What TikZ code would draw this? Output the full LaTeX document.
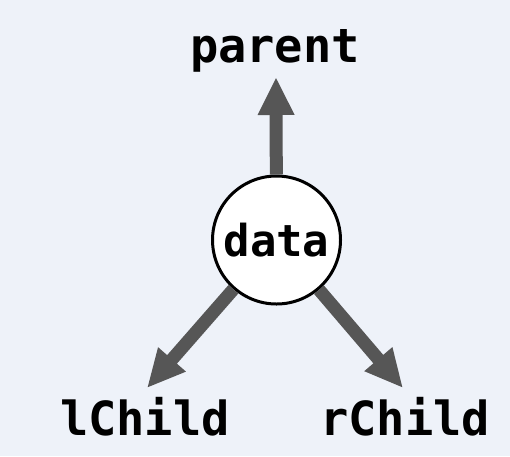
\documentclass[tikz,border=0pt]{standalone}
\usepackage{fontspec}
\setmonofont{DejaVu Sans Mono}
\usetikzlibrary{arrows.meta}
\definecolor{bgcol}{HTML}{EEF2F9}
\definecolor{arrowgray}{HTML}{565656}
\begin{document}
\begin{tikzpicture}[x=1pt,y=-1pt,
  label/.style={font=\ttfamily\bfseries\fontsize{47}{50}\selectfont, inner sep=0pt, anchor=base},
  datanode/.style={circle, draw=black, line width=3pt, fill=white, minimum size=128pt, inner sep=0pt,
    font=\ttfamily\bfseries\fontsize{44}{48}\selectfont},
  link/.style={draw=arrowgray, line width=13pt, -{Triangle[length=38pt,width=34pt]}}]
  % backdrop
  \fill[bgcol] (0,0) rectangle (510,456);
  \useasboundingbox (0,0) rectangle (510,456);
  % labels
  \node[label] (parent) at (275,62) {parent};
  \node[label] (lchild) at (145,435) {lChild};
  \node[label] (rchild) at (405,435) {rChild};
  % arrow tips
  \coordinate (tipP) at (276,77);
  \coordinate (tipL) at (147,388);
  \coordinate (tipR) at (403,388);
  % centre node
  \node[datanode] (data) at (276.5,240) {data};
  % pointers
  \draw[link] (data) -- (tipP);
  \draw[link] (data) -- (tipL);
  \draw[link] (data) -- (tipR);
\end{tikzpicture}
\end{document}
